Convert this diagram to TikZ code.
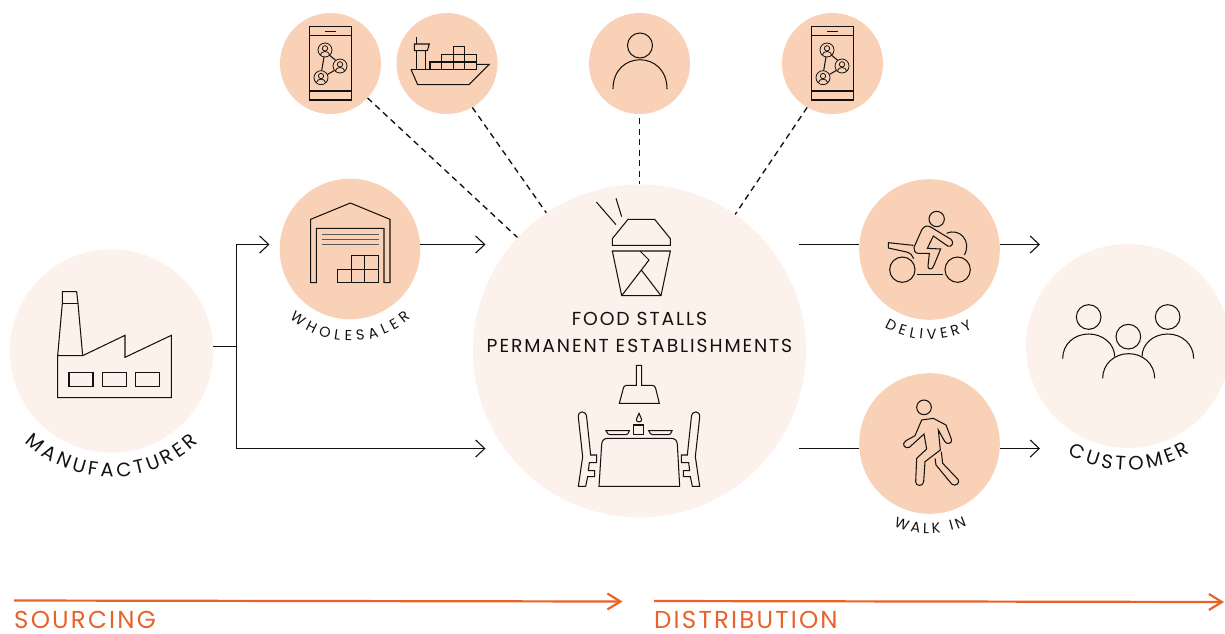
\documentclass[tikz,border=0pt]{standalone}
\usepackage{fontspec}
\setmainfont{Poppins}
\usetikzlibrary{arrows.meta,decorations.text}
\definecolor{palepeach}{HTML}{FDF1EB}
\definecolor{midpeach}{HTML}{F9D1B7}
\definecolor{flame}{HTML}{E8622A}
\definecolor{ink}{HTML}{141210}
\tikzset{
  bigdisc/.style={circle,fill=palepeach,draw=none,inner sep=0pt,minimum size=#1},
  disc/.style={circle,fill=midpeach,draw=none,inner sep=0pt,minimum size=#1},
  flow/.style={draw=ink,line width=1.1pt},
  flowarrow/.style={flow,-{Straight Barb[length=9pt,width=17pt,line width=1.1pt]}},
  linkdash/.style={draw=ink,line width=1.35pt,dash pattern=on 6pt off 4.5pt},
  icon/.style={draw=ink,line width=1.05pt,line join=miter},
  phase/.style={draw=flame,line width=2.2pt,-{Straight Barb[length=13pt,width=16pt,line width=2.2pt]}},
  phasetext/.style={text=flame,anchor=base west,inner sep=0pt,font=\fontsize{24.5}{27}\selectfont},
  hubtext/.style={text=ink,anchor=base,inner sep=0pt,font=\fontsize{18.8}{20}\selectfont},
}
\newcommand{\arclabel}[7]{%
  \begin{scope}[y=1pt]
  \path[decorate,decoration={text along path,text color=ink,
     text={|\fontsize{#6}{20}\selectfont|#7},text align={fit to path}}]
     ([shift={(#4:#3pt)}]#1,-#2) arc[start angle=#4,end angle=#5,radius=#3pt];
  \end{scope}}
\newcommand{\miniperson}[2]{%
  \draw[icon,line width=.8pt] (#1,#2) circle[radius=21];
  \draw[icon,line width=.8pt] (#1,#2-5) circle[radius=8];
  \draw[icon,line width=.8pt] (#1-14,#2+15) .. controls (#1-12,#2+1) and (#1+12,#2+1) .. (#1+14,#2+15);}
\newcommand{\phoneicon}[1]{%
  \begin{scope}[shift={(#1,0)},scale=1/3]
  \draw[icon,line width=1.3pt] (119,80) rectangle (244,300);
  \draw[icon] (119,106) -- (244,106) (119,273) -- (244,273);
  \draw[icon,line width=.8pt] (165,93) -- (197,93);
  \draw[icon] (162,171) -- (155,212) (178,165) -- (197,181) (173,223) -- (192,212);
  \miniperson{165}{150}\miniperson{210}{198}\miniperson{153}{233}
  \end{scope}}
\begin{document}
\begin{tikzpicture}[x=1pt,y=-1pt]
\useasboundingbox (0,0) rectangle (1225,633);
% discs
\node[bigdisc=203.5pt] (maker) at (111.5,351) {};
\node[bigdisc=204pt] (customer) at (1128,346) {};
\node[bigdisc=333pt] (hub) at (639.5,351) {};
\node[disc=140.6pt] (whole) at (350,249) {};
\node[disc=140.6pt] (deliv) at (929.5,249.5) {};
\node[disc=140.6pt] (walk) at (929.5,443.5) {};
\node[disc=101pt] (appa) at (330.5,63.5) {};
\node[disc=101pt] (ship) at (447,63.5) {};
\node[disc=101pt] (person) at (639.5,63.5) {};
\node[disc=101pt] (appb) at (832.5,63.5) {};
% free ends of connectors
\coordinate (split) at (236.5,346.5);
\coordinate (upbend) at (236.5,244.5);
\coordinate (lowbend) at (236.5,448.5);
\coordinate (upend) at (269.5,244.5);
\coordinate (lowend) at (485.5,448.5);
\coordinate (wholeout) at (420.4,244.5);
\coordinate (wholeend) at (485.5,244.5);
\coordinate (hubup) at (799,244.5);
\coordinate (hublow) at (799,448.5);
\coordinate (delivout) at (999.5,244.5);
\coordinate (delivend) at (1040,244.5);
\coordinate (walkout) at (999.5,448.5);
\coordinate (walkend) at (1040,448.5);
\coordinate (persona) at (639.5,118);
\coordinate (personb) at (639.5,184);
% connectors
\draw[flow] (maker.east |- split) -- (split);
\draw[flowarrow] (split) -- (upbend) -- (upend);
\draw[flowarrow] (split) -- (lowbend) -- (lowend);
\draw[flowarrow] (wholeout) -- (wholeend);
\draw[flow] (hubup) -- (deliv.west |- hubup);
\draw[flow] (hublow) -- (walk.west |- hublow);
\draw[flowarrow] (delivout) -- (delivend);
\draw[flowarrow] (walkout) -- (walkend);
\draw[linkdash] (appa) -- (hub);
\draw[linkdash] (ship.300) -- (hub.124.4);
\draw[linkdash] (appb.240) -- (hub.55.6);
\draw[linkdash] (persona) -- (personb);
% phones
\phoneicon{270}
\phoneicon{772}
% ship
\begin{scope}[shift={(270,0)},scale=1/3]
\draw[icon] (423,208) -- (443,254) -- (597,254) -- (658,193) -- (620,193);
\draw[icon] (423,208) -- (620,208);
\draw[icon] (480,208) -- (480,186) -- (620,186);
\draw[icon] (515,208) -- (515,163) -- (620,163) -- (620,208);
\draw[icon] (550,208) -- (550,140) -- (584,140) -- (584,208);
\draw[icon] (440,112) -- (440,132) (440,152) -- (440,208) (466,152) -- (466,208);
\draw[icon] (433,132) -- (478,132) -- (472,152) -- (433,152) -- cycle;
\end{scope}
% person
\draw[icon] (640,45.5) circle[radius=12.5];
\draw[icon] (613,89) .. controls (613,50) and (667,50) .. (667,89);
% factory
\begin{scope}[shift={(0,190)},scale=1/3]
\draw[icon] (173,497) -- (187,340) -- (187,305) -- (230,305) -- (234,340) -- (248,497);
\draw[icon] (187,340) -- (234,340);
\draw[icon] (173,497) -- (173,623) -- (514,623) -- (514,436) -- (375,502) -- (375,436) -- (248,497) -- cycle;
\draw[icon] (207,548) rectangle (279,589) (307,548) rectangle (379,589) (407,548) rectangle (479,589);
\end{scope}
% warehouse
\begin{scope}[shift={(270,190)},scale=1/3]
\draw[icon] (122,278) -- (122,88) -- (241,39) -- (360,88) -- (360,278) -- (342,278) -- (342,115) -- (139,115) -- (139,278) -- cycle;
\draw[icon,draw=ink!70] (155,133) -- (326,133) (155,149) -- (326,149) (155,164) -- (326,164);
\draw[icon] (203,238) rectangle (244,278) (244,238) rectangle (284,278) (284,238) rectangle (325,278);
\draw[icon] (244,197) rectangle (284,238) (284,197) rectangle (325,238);
\end{scope}
% food box
\begin{scope}[shift={(540,190)},scale=1/3]
\draw[icon] (217,166) -- (217,146) -- (264,88) -- (344,88) -- (391,146) -- (391,166) -- cycle;
\draw[icon] (169,36) -- (228,104) (228,25) -- (245,80);
\draw[icon] (217,183) -- (391,183) -- (363,317) -- (245,317) -- cycle;
\draw[icon] (300,183) -- (327,210) -- (245,317) (304,240) -- (363,317);
\end{scope}
% lamp, table, chairs
\begin{scope}[shift={(560,360)},scale=1/3]
\draw[icon] (229,16) -- (229,76) -- (200,76) .. controls (193,76) and (191,80) .. (190,85) -- (178,130) -- (298,130) -- (287,85) .. controls (285,80) and (283,76) .. (276,76) -- (245,76) -- (245,16) -- cycle;
\draw[icon] (221,195) rectangle (251,224);
\draw[icon] (237,160) .. controls (239,170) and (245,172) .. (245,179) .. controls (245,188) and (229,188) .. (229,179) .. controls (229,172) and (235,170) .. (237,160) -- cycle;
\draw[icon] (138,212) -- (208,212) .. controls (206,220) and (202,224) .. (198,224) -- (150,224) .. controls (146,224) and (140,220) .. (138,212) -- cycle;
\draw[icon] (266,212) -- (336,212) .. controls (334,220) and (330,224) .. (326,224) -- (278,224) .. controls (274,224) and (268,220) .. (266,212) -- cycle;
\draw[icon] (117,379) -- (125,253) .. controls (126,241) and (132,235) .. (144,235) -- (333,235) .. controls (345,235) and (351,241) .. (352,253) -- (359,379) -- cycle;
\draw[icon] (55,172) .. controls (53,150) and (79,150) .. (80,172) -- (92,285) -- (110,285) -- (110,308) -- (88,308) -- (85,332) -- (104,332) -- (104,350) -- (83,350) -- (77,379) -- (55,379) -- (68,290) -- cycle;
\draw[icon] (419,172) .. controls (421,150) and (395,150) .. (394,172) -- (382,285) -- (364,285) -- (364,308) -- (386,308) -- (389,332) -- (370,332) -- (370,350) -- (391,350) -- (397,379) -- (419,379) -- (406,290) -- cycle;
\end{scope}
% motorbike
\begin{scope}[shift={(850,170)},scale=1/3]
\draw[icon] (260,147) circle[radius=23];
\draw[icon] (157,299) circle[radius=38] (323,299) circle[radius=38];
\draw[icon] (201,313) -- (279,313);
\draw[icon] (190,226) -- (115,218) -- (115,234) -- (170,246) .. controls (182,250) and (188,256) .. (191,266);
\draw[icon] (192,232) -- (215,180) .. controls (222,167) and (232,166) .. (242,171) -- (303,208) .. controls (314,216) and (305,234) .. (293,228) -- (250,198) -- (232,235) -- (272,237) -- (250,290) .. controls (246,301) and (232,298) .. (234,288) -- (238,250) -- (205,250) .. controls (195,250) and (190,240) .. (192,232) -- cycle;
\draw[icon] (290,190) .. controls (330,172) and (366,215) .. (343,255);
\end{scope}
% walker
\begin{scope}[shift={(850,370)},scale=1/3]
\draw[icon] (222,112) circle[radius=22];
\draw[icon] (195,197) -- (215,150) -- (250,145) -- (288,165) -- (305,210) .. controls (306,222) and (288,224) .. (284,214) -- (265,180) -- (271,240) -- (225,275) -- (221,335) .. controls (220,350) and (196,350) .. (197,335) -- (200,265) -- (230,237) -- (222,192) -- (178,232) .. controls (165,238) and (152,222) .. (168,212) -- cycle;
\draw[icon] (255,265) -- (258,285) -- (305,342) .. controls (316,352) and (332,338) .. (324,328) -- (278,280) -- (274,245);
\end{scope}
% customers
\begin{scope}[shift={(1020,240)},scale=1/3]
\draw[icon] (206,231) circle[radius=37] (443,231) circle[radius=37] (325,290) circle[radius=37];
\draw[icon] (128,356) .. controls (128,312) and (163,282) .. (206,282) .. controls (249,282) and (284,312) .. (284,350);
\draw[icon] (366,350) .. controls (366,312) and (400,282) .. (443,282) .. controls (486,282) and (521,312) .. (521,356);
\draw[icon] (248,415) .. controls (248,372) and (283,341) .. (326,341) .. controls (369,341) and (404,372) .. (404,415);
\end{scope}
% texts
\node[hubtext] (stalls) at (639.5,325.2) {\addfontfeature{LetterSpace=10}FOOD STALLS};
\node[hubtext] (perm) at (639.5,352.2) {\addfontfeature{LetterSpace=10}PERMANENT ESTABLISHMENTS};
\arclabel{111.5}{351}{126}{226.7}{313.4}{19.5}{MANUFACTURER}
\arclabel{350}{249}{92}{229}{311}{14.5}{WHOLESALER}
\arclabel{929.5}{249.5}{90}{240}{298.5}{14.5}{DELIVERY}
\arclabel{929.5}{443.5}{90}{246.5}{294.5}{14.5}{WALK IN}
\arclabel{1128}{346}{124}{241}{300}{19.5}{CUSTOMER}
% phases
\coordinate (srcstart) at (14,600.5);
\coordinate (srcend) at (622.5,601.5);
\coordinate (dststart) at (654,601);
\coordinate (dstend) at (1224,602);
\draw[phase] (srcstart) -- (srcend);
\draw[phase] (dststart) -- (dstend);
\node[phasetext] (src) at (14,628.5) {\addfontfeature{LetterSpace=9}SOURCING};
\node[phasetext] (dst) at (654,628.5) {\addfontfeature{LetterSpace=9}DISTRIBUTION};
\end{tikzpicture}
\end{document}
